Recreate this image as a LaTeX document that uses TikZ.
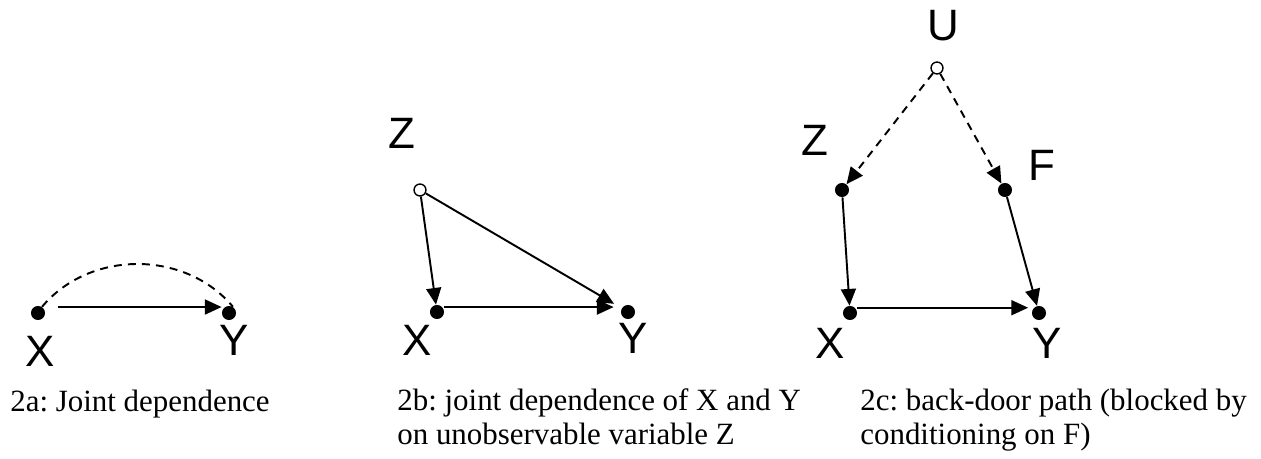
\documentclass[tikz,border=0pt]{standalone}
\usepackage{fontspec}
\setmainfont{Liberation Serif}
\newfontfamily\varfont{Liberation Sans}
\usetikzlibrary{arrows.meta}
\frenchspacing

\begin{document}
\begin{tikzpicture}[
  x=0.02cm,y=0.02cm,
  dot/.style={circle, fill=black, inner sep=0pt, minimum size=8pt},
  hollow/.style={circle, draw=black, fill=white, line width=0.8pt, inner sep=0pt, minimum size=6.8pt},
  var/.style={font=\fontsize{25}{25}\selectfont\varfont, inner sep=0pt},
  captext/.style={font=\fontsize{17.6}{19.8}\selectfont, align=left, anchor=base west, inner sep=0pt},
  arr/.style={-{Triangle[length=9.5pt,width=8.5pt]}, line width=1.1pt},
  darr/.style={arr, dash pattern=on 4.5pt off 3.5pt}
]
\useasboundingbox (0,0) rectangle (1261,459);
\node[dot] (xa) at (38,146) {};
\node[dot] (ya) at (229,146) {};
\node[var] (xalab) at (40,108) {X};
\node[var] (yalab) at (234,119) {Y};
\draw[arr, shorten <=7pt] ([yshift=3.4pt]xa.east) -- ([yshift=3.4pt]ya.west);
\draw[line width=1.1pt, dash pattern=on 4.5pt off 3.5pt] (xa.57) to[out=50,in=130] (ya.58);
\node[captext] (capa) at (10,47) {2a: Joint dependence};

\node[hollow] (zb) at (420,269) {};
\node[dot] (xb) at (437,147) {};
\node[dot] (yb) at (628,147) {};
\node[var] (zblab) at (402,326) {Z};
\node[var] (xblab) at (417,119) {X};
\node[var] (yblab) at (633,121) {Y};
\draw[arr] (zb) -- (xb);
\draw[arr, shorten >=5pt] (zb) -- (yb);
\draw[arr, shorten >=4pt] ([yshift=2.8pt]xb.east) -- ([yshift=2.8pt]yb.west);
\node[captext] (capb) at (397,14) {2b: joint dependence of X and Y\\on unobservable variable Z};

\node[hollow] (uc) at (937,391) {};
\node[dot] (zc) at (842,269) {};
\node[dot] (fc) at (1005,269) {};
\node[dot] (xc) at (850,146) {};
\node[dot] (yc) at (1039,146) {};
\node[var] (uclab) at (943,433) {U};
\node[var] (zclab) at (815,319) {Z};
\node[var] (fclab) at (1042,294) {F};
\node[var] (xclab) at (830,116) {X};
\node[var] (yclab) at (1047,116) {Y};
\draw[darr] (uc) -- (zc);
\draw[darr] (uc) -- (fc);
\draw[arr] (zc) -- (xc);
\draw[arr] (fc) -- (yc);
\draw[arr, shorten >=2pt] ([yshift=3pt]xc.east) -- ([yshift=3pt]yc.west);
\node[captext] (capc) at (860,14) {2c: back-door path (blocked by\\conditioning on F)};
\end{tikzpicture}
\end{document}
